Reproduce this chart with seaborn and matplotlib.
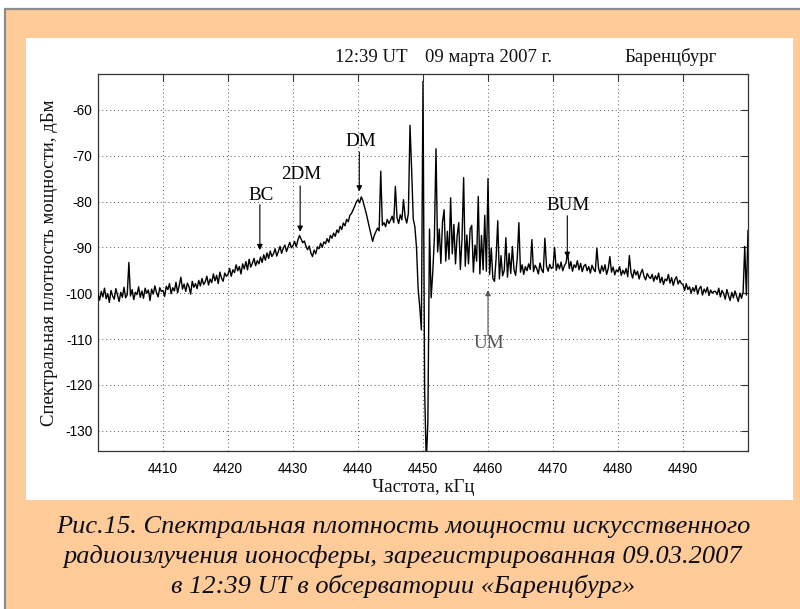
import numpy as np
import pandas as pd
import matplotlib
matplotlib.use("Agg")
import matplotlib.pyplot as plt
import seaborn as sns
from matplotlib.patches import Rectangle

# ---------------- data ----------------
freq_start = 4400.0      # kHz
freq_step = 0.25         # kHz
power_dbm = [
    # 4400.00 - 4404.75
    -100.2, -101.5, -99.6, -100.8, -98.9, -101.2, -100.1, -102.0, -99.4, -100.6,
    -101.3, -99.0, -100.4, -101.8, -99.8, -100.9, -98.7, -101.0, -100.3, -93.3,
    # 4405
    -100.6, -99.2, -101.4, -99.8, -100.3, -98.6, -100.9, -99.5, -101.1, -98.9,
    -100.0, -99.3, -101.6, -99.1, -100.2, -98.4, -99.9, -100.8, -98.8, -99.6,
    # 4410
    -99.4, -100.7, -98.5, -99.2, -97.9, -100.1, -98.8, -99.5, -97.6, -99.9,
    -98.3, -96.5, -99.1, -98.0, -99.6, -97.8, -98.6, -100.2, -97.4, -98.7,
    # 4415
    -97.9, -99.0, -97.2, -98.4, -96.8, -98.1, -97.5, -96.3, -98.2, -96.9,
    -97.7, -95.8, -97.3, -96.1, -97.9, -95.4, -96.7, -97.4, -95.6, -96.3,
    # 4420
    -95.9, -94.6, -96.3, -94.9, -95.5, -93.8, -95.1, -94.2, -95.8, -93.6,
    -94.7, -93.1, -94.9, -92.6, -94.3, -93.5, -92.4, -94.0, -92.9, -93.6,
    # 4425
    -92.1, -93.3, -91.6, -92.8, -91.2, -92.4, -90.8, -92.0, -91.4, -90.3,
    -91.9, -90.9, -89.8, -91.3, -90.2, -89.5, -90.9, -89.9, -88.9, -90.1,
    # 4430
    -89.6, -88.7, -89.9, -88.4, -87.4, -88.2, -89.0, -88.6, -89.8, -90.5,
    -89.7, -91.2, -92.0, -90.6, -91.4, -89.9, -90.3, -89.1, -90.0, -88.8,
    # 4435
    -89.2, -88.1, -88.9, -87.4, -88.0, -86.9, -87.6, -86.2, -86.8, -85.4,
    -86.1, -84.7, -85.3, -83.9, -84.4, -83.0, -82.6, -81.8, -81.0, -80.1,
    # 4440
    -79.6, -80.3, -79.0, -79.8, -81.2, -82.5, -84.1, -85.6, -87.2, -88.7,
    -87.4, -86.6, -85.8, -86.4, -73.4, -85.2, -84.6, -85.5, -83.9, -84.8,
    # 4445
    -84.1, -83.2, -84.6, -76.7, -83.5, -84.8, -82.9, -84.0, -79.6, -83.4,
    -84.7, -82.6, -63.4, -73.0, -83.8, -85.5, -90.0, -99.0, -103.0, -108.0,
    # 4450
    -53.8, -121.0, -137.0, -128.0, -86.0, -101.0, -95.5, -88.0, -68.5, -91.0,
    -86.0, -93.5, -84.5, -81.8, -93.0, -86.5, -92.6, -79.2, -91.4, -85.0,
    # 4455
    -93.6, -87.5, -84.6, -94.8, -88.2, -74.8, -94.1, -87.3, -93.6, -86.0,
    -85.2, -95.4, -89.5, -93.0, -78.9, -95.8, -87.4, -94.9, -83.0, -95.2,
    # 4460
    -75.0, -95.9, -90.2, -96.8, -97.4, -92.3, -84.2, -96.9, -91.8, -96.2,
    -95.0, -87.9, -96.5, -91.3, -95.7, -89.8, -94.9, -96.1, -92.4, -84.6,
    # 4465
    -95.4, -93.8, -95.9, -94.2, -95.1, -93.6, -94.8, -88.3, -95.3, -93.9,
    -94.6, -95.8, -93.4, -94.9, -95.5, -88.0, -94.1, -95.2, -93.7, -94.6,
    # 4470
    -94.3, -90.0, -95.0, -93.6, -94.7, -93.2, -95.1, -94.0, -93.4, -91.0,
    -94.6, -93.1, -95.2, -93.8, -94.4, -92.9, -94.9, -93.5, -95.3, -94.1,
    # 4475
    -93.7, -95.1, -94.2, -95.6, -93.9, -94.8, -95.3, -90.2, -94.5, -95.7,
    -94.0, -95.2, -93.8, -95.9, -94.6, -92.0, -95.4, -94.3, -96.0, -94.9,
    # 4480
    -95.3, -94.2, -96.1, -95.0, -95.8, -94.6, -96.4, -91.8, -95.5, -96.7,
    -94.9, -96.0, -95.2, -96.9, -95.6, -94.8, -96.3, -97.1, -95.7, -96.4,
    # 4485
    -96.8, -95.9, -97.4, -96.2, -97.0, -95.6, -97.7, -96.5, -98.1, -96.9,
    -97.3, -95.9, -97.8, -96.6, -98.3, -97.0, -96.4, -98.0, -97.2, -97.9,
    # 4490
    -98.1, -99.4, -97.9, -99.2, -98.6, -100.0, -98.8, -99.6, -98.3, -100.2,
    -99.0, -98.5, -100.4, -99.1, -99.8, -98.7, -100.5, -99.3, -100.0, -99.6,
    # 4495
    -99.6, -100.3, -98.9, -100.8, -99.4, -100.1, -101.3, -99.2, -100.5, -101.6,
    -99.8, -101.0, -99.5, -100.7, -101.8, -100.0, -101.1, -99.7, -89.8, -100.4,
    # 4500
    -86.3,
]

x_ticks = [4410, 4420, 4430, 4440, 4450, 4460, 4470, 4480, 4490]
y_ticks = [-130, -120, -110, -100, -90, -80, -70, -60]

# annotations: label, arrow x (kHz), arrow start dB, arrow tip dB, text dB
marker_labels = ["BC", "2DM", "DM", "BUM", "UM"]
marker_freq = [4424.9, 4431.1, 4440.2, 4472.2, 4460.0]
marker_from = [-80.7, -76.6, -69.2, -83.1, -109.1]
marker_tip = [-90.6, -86.6, -77.8, -92.3, -99.3]
marker_text_y = [-78.8, -74.1, -66.9, -80.8, -110.9]

title_time = "12:39 UT"
title_date = "09 марта 2007 г."
title_place = "Баренцбург"
x_label = "Частота, кГц"
y_label = "Спектральная плотность мощности, дБм"
caption = ["Рис.15. Спектральная плотность мощности искусственного",
           "радиоизлучения ионосферы, зарегистрированная 09.03.2007",
           "в 12:39 UT в обсерватории «Баренцбург»"]

# ---------------- plot ----------------
sns.set_theme(style="white")
plt.rcParams['font.family'] = ['Liberation Sans', 'DejaVu Sans']
plt.rcParams['xtick.direction'] = 'in'
plt.rcParams['ytick.direction'] = 'in'

W, H = 800, 609
fig = plt.figure(figsize=(W / 100, H / 100), dpi=100)
fig.patch.set_facecolor('white')

# beige frame with gray border
fig.patches.append(Rectangle((5 / W, -0.01), 1.0, 1 - 8.5 / H + 0.01,
                             transform=fig.transFigure,
                             facecolor='#FFCC99', edgecolor='#8c8c8c', linewidth=1.6,
                             zorder=-2))
# white panel
fig.patches.append(Rectangle((26 / W, 1 - 500 / H), (793 - 26) / W, (500 - 38) / H,
                             transform=fig.transFigure, facecolor='white',
                             edgecolor='none', zorder=-1))

ax = fig.add_axes([98 / W, 1 - 451 / H, (748 - 98) / W, (451 - 74) / H])
ax.set_zorder(2)
ax.set_facecolor('white')

freq = freq_start + freq_step * np.arange(len(power_dbm))
df = pd.DataFrame({"freq": freq, "power": power_dbm})
sns.lineplot(data=df, x="freq", y="power", ax=ax, color='black', linewidth=1.0,
             estimator=None, sort=False, zorder=3)

ax.set_xlim(4400, 4500)
ax.set_ylim(-134.4, -52.2)
ax.set_xticks(x_ticks)
ax.set_yticks(y_ticks)
ax.set_xticklabels([str(t) for t in x_ticks])
ax.set_yticklabels([str(t) for t in y_ticks])
ax.tick_params(axis='both', which='both', top=True, right=True, length=5, width=0.8,
               color='#333333', labelsize=9.8, labelcolor='black', pad=4)
ax.tick_params(axis='x', pad=8)
for s in ax.spines.values():
    s.set_color('#333333')
    s.set_linewidth(0.9)
ax.grid(True, linestyle=(0, (1, 3)), color='#555555', linewidth=0.7)
ax.set_axisbelow(True)

serif = ['Liberation Serif', 'DejaVu Serif']
ax.set_xlabel(x_label, family=serif, fontsize=13.5, color='#111111', labelpad=2)
ax.set_ylabel(y_label, family=serif, fontsize=13.5, color='#111111', labelpad=5)

fig.text(335 / W, 1 - 57 / H, title_time, family=serif, fontsize=13.5, ha='left',
         va='center', color='#111111')
fig.text(425 / W, 1 - 57 / H, title_date, family=serif, fontsize=13.5, ha='left',
         va='center', color='#111111')
fig.text(624 / W, 1 - 57 / H, title_place, family=serif, fontsize=13.5, ha='left',
         va='center', color='#111111')

for lab, fx, y0, y1, ty in zip(marker_labels, marker_freq, marker_from, marker_tip,
                               marker_text_y):
    col = '#555555' if lab == "UM" else 'black'
    ax.annotate("", xy=(fx, y1), xytext=(fx, y0),
                arrowprops=dict(arrowstyle='-|>', color=col, lw=0.8,
                                mutation_scale=8, shrinkA=0, shrinkB=0),
                zorder=4)
    ax.text(fx + 0.2, ty, lab, family=serif, fontsize=13.8, ha='center', va='center',
            color=col, zorder=4)

for i, line in enumerate(caption):
    fig.text(403 / W, 1 - (527 + 29.5 * i) / H, line, family=serif, style='italic',
             fontsize=19, ha='center', va='center', color='#0d0d1a')

fig.savefig("out.png", dpi=100, facecolor=fig.get_facecolor())
